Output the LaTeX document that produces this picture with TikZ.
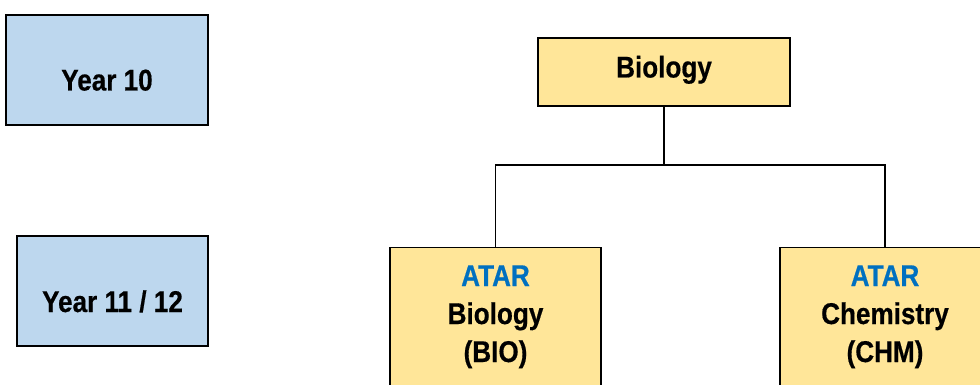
\documentclass[tikz,border=0pt]{standalone}
\usepackage{fontspec}
\setmainfont{Liberation Sans}[FakeStretch=0.87, BoldFeatures={FakeBold=0.5}]
\definecolor{ybox}{HTML}{FFE699}
\definecolor{bbox}{HTML}{BDD7EE}
\definecolor{atar}{HTML}{0070C0}
\tikzset{
  box/.style={draw=black, line width=1.3pt, inner sep=0pt},
  yellowbox/.style={box, fill=ybox},
  bluebox/.style={box, fill=bbox},
  txt/.style={font=\fontsize{30}{38}\selectfont\bfseries, align=center, inner sep=0pt, anchor=base},
  conn/.style={draw=black, line width=1.3pt}
}
\begin{document}
\begin{tikzpicture}[x=1pt, y=-1pt]
\useasboundingbox (0,0) rectangle (980,385);
\clip (0,0) rectangle (980,385);
% Year boxes
\node[bluebox, minimum width=202pt, minimum height=110pt] (y10) at (107,70) {};
\node[txt] (y10t) at (107,90.5) {Year 10};
\node[bluebox, minimum width=191pt, minimum height=110pt] (y11) at (112.5,291) {};
\node[txt] (y11t) at (112.5,312) {Year 11 / 12};
% Biology
\node[yellowbox, minimum width=252pt, minimum height=68pt] (biol) at (664,72) {};
\node[txt] (biolt) at (664,77.5) {Biology};
% ATAR boxes
\node[yellowbox, minimum width=211pt, minimum height=180pt, anchor=north] (bio) at (495.5,247) {};
\node[txt] (biot) at (495.5,362) {\textcolor{atar}{ATAR}\\Biology\\(BIO)};
\node[yellowbox, minimum width=210pt, minimum height=180pt, anchor=north] (chm) at (885,247) {};
\node[txt] (chmt) at (885,362) {\textcolor{atar}{ATAR}\\Chemistry\\(CHM)};
% connectors
\coordinate (j) at (biol.south |- 0,165);
\draw[conn] (biol.south) -- (j);
\draw[conn] (bio.north) |- (j) -| (chm.north);
\end{tikzpicture}
\end{document}
